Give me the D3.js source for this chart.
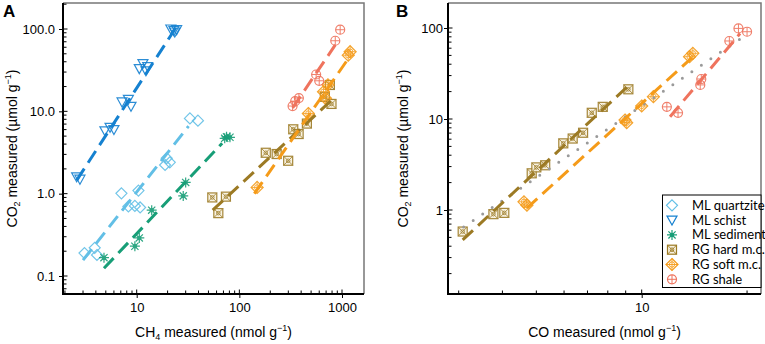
<!DOCTYPE html>
<meta charset="utf-8">
<style>
body { margin: 0; background: #fff; }
text { font-family: 'Liberation Sans', Arial, sans-serif; fill: #000; }
.tick text { font-size: 13px; font-family: 'Liberation Sans', Arial, sans-serif; }
.axisTitle { font-size: 14px; }
.panelLabel { font-size: 17px; font-weight: bold; }
.legend text { font-family: Lato, 'Open Sans', sans-serif; font-size: 13px; }
.fit { fill: none; stroke-width: 3; stroke-dasharray: 14,7; }
.allfit { fill: none; stroke: #9a9a9a; stroke-width: 3; stroke-linecap: round; stroke-dasharray: 0,11.5; }
</style>
<svg width="765" height="344"></svg>
<script src="https://d3js.org/d3.v7.min.js"></script>
<script>

// series
var seriesNames = ["ML quartzite", "ML schist", "ML sediment", "RG hard m.c.", "RG soft m.c.", "RG shale"];
var seriesColors = ["#62bfe6", "#1581d0", "#179e77", "#9c7a24", "#f59b19", "#ef735d"];
var seriesShapes = ["diamond", "triangle", "asterisk", "squareX", "diamondPlus", "circlePlus"];

// panel A: [CH4, CO2]
var quartziteA = [[3.1,0.19],[3.9,0.22],[4.1,0.18],[7.1,1.01],[10.4,1.09],[8.3,0.70],[9.6,0.71],[10.8,0.68],[18.9,2.23],[21,2.4],[19.6,2.7],[33,8.2],[39.5,7.7]];
var schistA = [[2.6,1.6],[2.8,1.5],[4.9,5.8],[5.5,6.4],[6.0,6.0],[7.2,13],[8.3,14],[8.8,11.5],[10.6,33],[11.5,38],[12.3,31],[12.8,35],[21.5,100],[23,96],[24.5,98],[23.5,92]];
var sedimentA = [[4.8,0.167],[10.6,0.29],[9.6,0.23],[14,0.63],[30,1.37],[28.4,0.94],[72,4.7],[75,4.9],[81,4.84]];
var hardA = [[54.5,0.90],[74,0.92],[62.4,0.58],[181,3.14],[231,3.03],[299,2.51],[335,6.05],[378,5.3],[455,7.1],[762,20.9],[680,15],[790,12.3]];
var softA = [[149,1.19],[470,9.4],[660,17.3],[690,14.4],[730,21],[1150,48],[1200,53]];
var shaleA = [[330,11.6],[350,13.3],[380,14.5],[560,28],[600,23.5],[860,72],[960,98]];
var fitsA = [
  [[3.0,0.156],[32,6.6]],
  [[2.6,1.45],[26,120]],
  [[4.8,0.124],[68,4.1]],
  [[55,0.63],[792,13.7]],
  [[140,1.0],[1200,47]],
  [[330,11],[860,64]]
];

// panel B: [CO, CO2]
var hardB = [[3.08,0.58],[3.77,0.90],[4.05,0.93],[4.85,2.53],[5.0,2.94],[5.3,3.1],[5.97,5.4],[6.35,6.1],[6.8,7.06],[7.2,11.7],[7.74,13.6],[9.16,21.2]];
var softB = [[4.61,1.23],[4.7,1.13],[9.06,9.1],[8.96,9.75],[10,13.9],[10.8,17.6],[13.7,48.4],[14.0,52.7]];
var shaleB = [[11.8,13.6],[12.7,11.7],[14.8,27.5],[14.7,23.7],[17.8,72],[18.9,99],[20,91]];
var fitsB = [null, null, null,
  [[3.08,0.47],[9.06,22.3]],
  [[4.7,1.05],[13.9,47]],
  [[12.05,10.6],[19.1,87]]
];
var allFitB = [[3.1,0.65],[19.5,80]];

var tickAy = [0.1, 1, 10, 100], tickAx = [10, 100, 1000];
var tickBy = [1, 10, 100], tickBx = [10];

var svg = d3.select("svg");

function drawMarker(g, shape, color) {
  g.attr("fill", "none").attr("stroke", color).attr("stroke-width", 1.2);
  if (shape == "diamond") {
    g.append("path").attr("d", "M0,-5.5L5.5,0L0,5.5L-5.5,0Z");
  } else if (shape == "triangle") {
    g.append("path").attr("d", "M-5,-4L5,-4L0,5Z");
  } else if (shape == "asterisk") {
    g.append("path").attr("d", "M-5,0H5M0,-5V5M-3.6,-3.6L3.6,3.6M3.6,-3.6L-3.6,3.6");
    g.append("circle").attr("r", 1.6).attr("fill", color);
  } else if (shape == "squareX") {
    g.append("rect").attr("x", -4.5).attr("y", -4.5).attr("width", 9).attr("height", 9).attr("fill", "#f8f1df");
    g.append("path").attr("d", "M-4.5,-4.5L4.5,4.5M4.5,-4.5L-4.5,4.5").attr("stroke-width", 0.9);
    g.append("circle").attr("r", 1.8).attr("stroke-width", 0.9);
  } else if (shape == "diamondPlus") {
    g.append("path").attr("d", "M0,-6L6,0L0,6L-6,0Z");
    g.append("path").attr("d", "M0,-6V6M-6,0H6").attr("stroke-width", 0.9);
    g.append("circle").attr("r", 2.7).attr("stroke-width", 0.9);
  } else {
    g.append("circle").attr("r", 4.5);
    g.append("path").attr("d", "M0,-4.5V4.5M-4.5,0H4.5").attr("stroke-width", 1);
  }
}

function minorTicks(scale, lo, hi) {
  var out = [];
  for (var k = -3; k <= 4; k++) {
    for (var d = 1; d <= 9; d++) {
      var v = d * Math.pow(10, k);
      if (v >= lo && v <= hi) out.push(v);
    }
  }
  return out;
}

function panel(o) {
  var x = d3.scaleLog().domain(o.xDom).range(o.xRange),
      y = d3.scaleLog().domain(o.yDom).range(o.yRange);
  var L = o.box[0], R = o.box[1], T = o.box[2], B = o.box[3];

  svg.append("clipPath").attr("id", "clip" + o.id)
    .append("rect").attr("x", L).attr("y", T).attr("width", R - L).attr("height", B - T);

  // top/right frame
  svg.append("path")
    .attr("d", "M" + L + "," + T + "H" + R + "V" + B)
    .attr("fill", "none").attr("stroke", "#777").attr("stroke-width", 1.5);

  var xMin = x.invert(L), xMax = x.invert(R), yMin = y.invert(B), yMax = y.invert(T);

  // inner ticks
  var minX = minorTicks(x, xMin, xMax), minY = minorTicks(y, yMin, yMax);
  svg.append("g").selectAll("line").data(minX).enter().append("line")
    .attr("x1", d => x(d)).attr("x2", d => x(d))
    .attr("y1", B).attr("y2", d => B - (o.xTicks.indexOf(d) >= 0 ? 4.5 : 3.5))
    .attr("stroke", "#000").attr("stroke-width", 1);
  svg.append("g").selectAll("line").data(minY).enter().append("line")
    .attr("y1", d => y(d)).attr("y2", d => y(d))
    .attr("x1", L).attr("x2", d => L + (o.yTicks.indexOf(d) >= 0 ? 4.5 : 3.5))
    .attr("stroke", "#000").attr("stroke-width", 1);

  var gx = svg.append("g").attr("transform", "translate(0," + B + ")")
    .call(d3.axisBottom(x).tickValues(o.xTicks).tickFormat(d3.format("d")).tickSize(4).tickPadding(5));
  var gy = svg.append("g").attr("transform", "translate(" + L + ",0)")
    .call(d3.axisLeft(y).tickValues(o.yTicks).tickFormat(o.yFormat).tickSize(4).tickPadding(o.yPad));
  gx.select(".domain").remove();
  gy.select(".domain").remove();
  gx.attr("font-family", null).attr("font-size", null);
  gy.attr("font-family", null).attr("font-size", null);

  svg.append("path")
    .attr("d", "M" + L + "," + T + "V" + B + "H" + R)
    .attr("fill", "none").attr("stroke", "#000").attr("stroke-width", 2);

  var marks = svg.append("g").attr("clip-path", "url(#clip" + o.id + ")");

  o.series.forEach(function(pts, i) {
    if (!pts) return;
    marks.append("g").selectAll("g").data(pts).enter().append("g")
      .attr("transform", d => "translate(" + x(d[0]) + "," + y(d[1]) + ")")
      .attr("opacity", 0.9)
      .each(function() { drawMarker(d3.select(this), seriesShapes[i], seriesColors[i]); });
  });

  var line = d3.line().x(d => x(d[0])).y(d => y(d[1]));
  if (o.allFit) marks.append("path").attr("class", "allfit").attr("d", line(o.allFit));
  o.fits.forEach(function(f, i) {
    if (!f) return;
    marks.append("path").attr("class", "fit").attr("stroke", seriesColors[i]).attr("d", line(f));
  });

  // titles
  var xt = svg.append("text").attr("class", "axisTitle").attr("text-anchor", "middle")
    .attr("x", (L + R) / 2).attr("y", 337);
  o.xTitle(xt);
  var yt = svg.append("text").attr("class", "axisTitle").attr("text-anchor", "middle")
    .attr("transform", "translate(" + o.yTitleX + "," + (T + B) / 2 + ") rotate(-90)");
  yt.text("CO");
  yt.append("tspan").attr("font-size", "9px").attr("dy", 3).text("2");
  yt.append("tspan").attr("dy", -3).text(" measured (\u00b5mol g");
  yt.append("tspan").attr("font-size", "9px").attr("dy", -6).text("\u22121");
  yt.append("tspan").attr("dy", 6).text(")");

  svg.append("text").attr("class", "panelLabel").attr("x", o.labelX).attr("y", 17).text(o.label);
  return {x: x, y: y};
}

panel({
  id: "A", label: "A", labelX: 3,
  box: [63, 364, 3, 294],
  xDom: [10, 1000], xRange: [136.7, 342],
  yDom: [0.1, 100], yRange: [276, 29],
  xTicks: tickAx, yTicks: tickAy, yFormat: d3.format(".1f"), yPad: 4,
  series: [quartziteA, schistA, sedimentA, hardA, softA, shaleA],
  fits: fitsA,
  yTitleX: 17,
  xTitle: function(t) {
    t.text("CH");
    t.append("tspan").attr("font-size", "9px").attr("dy", 3).text("4");
    t.append("tspan").attr("dy", -3).text(" measured (nmol g");
    t.append("tspan").attr("font-size", "9px").attr("dy", -6).text("\u22121");
    t.append("tspan").attr("dy", 6).text(")");
  }
});

panel({
  id: "B", label: "B", labelX: 396,
  box: [448, 761, 3, 294],
  xDom: [10, 100], xRange: [641.7, 991.7],
  yDom: [1, 100], yRange: [210, 28],
  xTicks: tickBx, yTicks: tickBy, yFormat: d3.format("d"), yPad: 1,
  series: [null, null, null, hardB, softB, shaleB],
  fits: fitsB, allFit: allFitB,
  yTitleX: 408,
  xTitle: function(t) {
    t.text("CO measured (nmol g");
    t.append("tspan").attr("font-size", "9px").attr("dy", -6).text("\u22121");
    t.append("tspan").attr("dy", 6).text(")");
  }
});

// legend
var legend = svg.append("g").attr("class", "legend");
legend.append("rect").attr("x", 662.5).attr("y", 195).attr("width", 98.5).attr("height", 92.5)
  .attr("fill", "#fff").attr("stroke", "#000").attr("stroke-width", 1);
seriesNames.forEach(function(name, i) {
  var row = legend.append("g").attr("transform", "translate(672," + (205.3 + i * 14.8) + ")");
  drawMarker(row.append("g"), seriesShapes[i], seriesColors[i]);
  row.append("text").attr("x", 20).attr("dy", "0.35em").text(name);
});

</script>
